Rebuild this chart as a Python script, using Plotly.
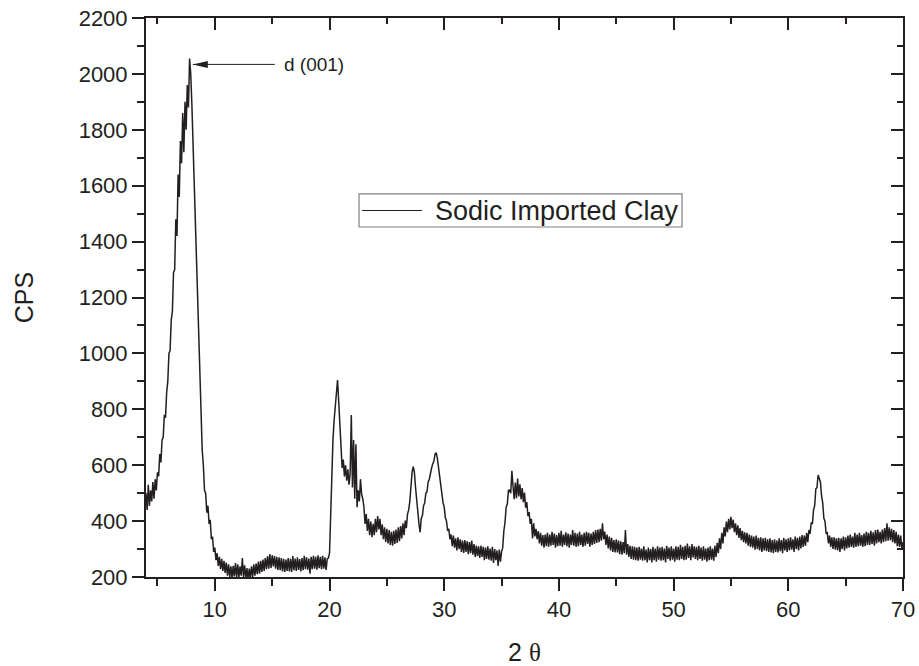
import numpy as np
import plotly.graph_objects as go

# ---- data (2θ grid: 4.0 .. 70.0 in 0.1° steps; CPS) ----
theta_start = 4.0
theta_step = 0.1
cps_rows = [
    [500, 440, 530, 455, 510, 470, 540, 480, 550, 510],      # 4
    [575, 560, 640, 610, 690, 700, 780, 770, 860, 900],      # 5
    [1000, 1010, 1120, 1150, 1290, 1300, 1480, 1420, 1640, 1560],  # 6
    [1760, 1680, 1860, 1720, 1900, 1800, 1960, 1880, 2055, 2000],  # 7
    [1890, 1750, 1600, 1460, 1300, 1140, 1000, 870, 745, 655],  # 8
    [600, 510, 500, 430, 455, 390, 405, 335, 345, 290],      # 9
    [305, 260, 285, 240, 272, 228, 265, 222, 258, 215],      # 10
    [252, 205, 245, 200, 238, 195, 240, 202, 250, 198],      # 11
    [245, 198, 238, 205, 268, 200, 242, 195, 232, 190],      # 12
    [230, 196, 238, 200, 245, 205, 248, 210, 255, 212],      # 13
    [258, 218, 262, 222, 268, 228, 275, 230, 282, 232],      # 14
    [278, 238, 275, 230, 272, 225, 270, 224, 268, 220],      # 15
    [265, 218, 262, 222, 268, 220, 265, 218, 275, 224],      # 16
    [266, 222, 270, 225, 264, 220, 268, 224, 276, 228],      # 17
    [270, 226, 266, 212, 272, 228, 276, 230, 272, 226],      # 18
    [278, 232, 272, 228, 276, 230, 270, 225, 265, 268],      # 19
    [285, 420, 580, 690, 760, 810, 870, 905, 830, 740],      # 20
    [660, 590, 620, 560, 600, 545, 585, 530, 570, 780],      # 21
    [520, 690, 480, 675, 450, 510, 470, 550, 495, 480],      # 22
    [450, 390, 425, 365, 408, 350, 398, 342, 390, 350],      # 23
    [408, 360, 418, 370, 408, 350, 388, 335, 378, 325],      # 24
    [372, 320, 368, 315, 362, 312, 365, 318, 370, 322],      # 25
    [378, 328, 382, 338, 392, 350, 402, 375, 425, 440],      # 26
    [470, 530, 575, 595, 575, 520, 470, 420, 390, 360],      # 27
    [410, 420, 455, 465, 500, 505, 540, 550, 575, 590],      # 28
    [605, 615, 640, 645, 625, 595, 565, 520, 505, 465],      # 29
    [450, 412, 400, 365, 372, 335, 352, 310, 348, 305],      # 30
    [338, 295, 342, 300, 335, 290, 330, 286, 332, 290],      # 31
    [328, 282, 325, 285, 330, 280, 318, 272, 312, 275],      # 32
    [310, 268, 312, 272, 308, 260, 305, 265, 310, 262],      # 33
    [302, 258, 308, 250, 300, 260, 295, 240, 298, 255],      # 34
    [290, 305, 365, 395, 450, 460, 510, 510, 500, 580],      # 35
    [525, 478, 538, 482, 552, 488, 532, 478, 518, 468],      # 36
    [502, 448, 468, 418, 432, 390, 408, 338, 392, 345],      # 37
    [372, 335, 364, 320, 358, 312, 350, 305, 352, 310],      # 38
    [358, 308, 352, 312, 362, 315, 355, 305, 350, 310],      # 39
    [358, 312, 365, 308, 352, 315, 360, 310, 355, 305],      # 40
    [352, 315, 368, 312, 358, 308, 355, 310, 362, 315],      # 41
    [352, 308, 358, 312, 362, 318, 358, 308, 355, 315],      # 42
    [362, 318, 368, 322, 370, 325, 372, 330, 392, 335],      # 43
    [362, 315, 352, 302, 345, 295, 340, 290, 332, 288],      # 44
    [335, 288, 330, 282, 328, 280, 325, 285, 368, 280],      # 45
    [318, 272, 312, 265, 310, 262, 308, 260, 305, 258],      # 46
    [308, 262, 302, 258, 310, 260, 298, 252, 305, 260],      # 47
    [300, 252, 308, 260, 302, 255, 310, 262, 305, 258],      # 48
    [308, 260, 302, 252, 312, 265, 305, 258, 310, 262],      # 49
    [302, 255, 310, 262, 308, 260, 315, 265, 308, 260],      # 50
    [312, 262, 320, 268, 310, 260, 318, 270, 310, 265],      # 51
    [308, 260, 312, 265, 305, 258, 310, 262, 302, 255],      # 52
    [305, 260, 310, 262, 302, 258, 312, 272, 322, 285],      # 53
    [338, 300, 358, 320, 378, 345, 398, 360, 408, 370],      # 54
    [415, 375, 405, 360, 392, 350, 385, 340, 375, 332],      # 55
    [365, 325, 360, 320, 358, 312, 352, 308, 348, 305],      # 56
    [345, 298, 348, 300, 340, 295, 342, 290, 338, 295],      # 57
    [340, 292, 335, 290, 338, 288, 332, 285, 335, 290],      # 58
    [330, 288, 338, 292, 332, 285, 340, 295, 335, 290],      # 59
    [338, 295, 342, 298, 335, 290, 345, 300, 340, 295],      # 60
    [345, 302, 350, 308, 348, 312, 358, 325, 368, 355],      # 61
    [395, 390, 440, 455, 515, 520, 565, 555, 540, 490],      # 62
    [465, 410, 400, 355, 358, 320, 348, 308, 342, 300],      # 63
    [342, 298, 338, 295, 340, 290, 338, 300, 345, 295],      # 64
    [342, 302, 348, 305, 352, 308, 345, 305, 358, 308],      # 65
    [352, 310, 358, 312, 350, 308, 355, 310, 362, 315],      # 66
    [358, 315, 365, 318, 360, 312, 368, 320, 370, 325],      # 67
    [362, 320, 370, 325, 375, 328, 392, 330, 378, 332],      # 68
    [372, 325, 368, 320, 362, 310, 352, 308, 348, 300],      # 69
    [325],                                                   # 70
]
cps = [v for row in cps_rows for v in row]
two_theta = np.round(theta_start + theta_step * np.arange(len(cps)), 1)

series_name = "Sodic Imported Clay"
peak_label = "d (001)"
x_tick_vals = [10, 20, 30, 40, 50, 60, 70]
y_tick_vals = list(range(200, 2201, 200))

# annotation anchor (arrow tip) in data units
arrow_tip_x = 8.08
arrow_tip_y = 2034

ink = "#231f20"
font_family = "Liberation Sans, Arial, sans-serif"

fig = go.Figure()
fig.add_trace(go.Scatter(
    x=two_theta, y=cps, mode="lines", name=series_name,
    line=dict(color=ink, width=1.5), showlegend=False,
))
# helper trace so the mirrored (top/right) axes are drawn
fig.add_trace(go.Scatter(x=[None], y=[None], xaxis="x2", yaxis="y2",
                         showlegend=False, hoverinfo="skip"))

common_axis = dict(
    showline=True, linewidth=2, linecolor=ink, showgrid=False, zeroline=False,
    tickwidth=2, tickcolor=ink, ticklen=12, automargin=False,
    tickfont=dict(size=22, color=ink, family=font_family),
)

fig.update_layout(
    width=919, height=666,
    margin=dict(l=146, r=16, t=18, b=89),
    paper_bgcolor="white", plot_bgcolor="white",
    font=dict(family=font_family, color=ink),
    xaxis=dict(
        **common_axis, range=[4, 70], tickmode="array", tickvals=x_tick_vals,
        ticks="outside",
        minor=dict(dtick=5, tick0=0, ticks="outside", ticklen=7, tickwidth=2, tickcolor=ink),
        title=dict(text="2 <span style='font-family:Liberation Serif'>θ</span>",
                   font=dict(size=25, color=ink), standoff=22),
    ),
    yaxis=dict(
        **common_axis, range=[200, 2200], tickmode="array", tickvals=y_tick_vals,
        ticks="outside",
        minor=dict(dtick=100, tick0=0, ticks="outside", ticklen=7, tickwidth=2, tickcolor=ink),
        title=dict(text="CPS", font=dict(size=25, color=ink), standoff=38),
    ),
    xaxis2=dict(
        **common_axis, range=[4, 70], overlaying="x", side="top", anchor="y",
        tickmode="array", tickvals=x_tick_vals, ticks="inside", showticklabels=False,
        minor=dict(dtick=5, tick0=0, ticks="inside", ticklen=6, tickwidth=2, tickcolor=ink),
    ),
    yaxis2=dict(
        **common_axis, range=[200, 2200], overlaying="y", side="right", anchor="x",
        tickmode="array", tickvals=y_tick_vals, ticks="inside", showticklabels=False,
        minor=dict(dtick=100, tick0=0, ticks="inside", ticklen=6, tickwidth=2, tickcolor=ink),
    ),
)

# --- peak annotation: arrow + label ---
fig.add_shape(type="line", xref="x", yref="y", xsizemode="pixel", xanchor=arrow_tip_x,
              x0=0, x1=82, y0=arrow_tip_y, y1=arrow_tip_y,
              line=dict(color=ink, width=1))
fig.add_shape(type="path", xref="x", yref="y", xsizemode="pixel", ysizemode="pixel",
              xanchor=arrow_tip_x, yanchor=arrow_tip_y,
              path="M0,0 L15,3.5 L15,-3.5 Z", fillcolor=ink, line=dict(width=0))
fig.add_annotation(x=arrow_tip_x, y=arrow_tip_y, xref="x", yref="y", xshift=89,
                   text=peak_label, showarrow=False, xanchor="left", yanchor="middle",
                   font=dict(size=19, color=ink))

# --- legend box (drawn) ---
fig.add_shape(type="rect", xref="paper", yref="paper",
              x0=0.2814, x1=0.7081, y0=0.6261, y1=0.6852,
              line=dict(color="#808080", width=1.2), fillcolor="white", layer="above")
fig.add_shape(type="line", xref="paper", yref="paper",
              x0=0.2853, x1=0.3646, y0=0.6556, y1=0.6556,
              line=dict(color=ink, width=1.2), layer="above")
fig.add_annotation(x=0.3791, y=0.6556, xref="paper", yref="paper", text=series_name,
                   showarrow=False, xanchor="left", yanchor="middle",
                   font=dict(size=27, color=ink))

fig.write_html("out.html")
